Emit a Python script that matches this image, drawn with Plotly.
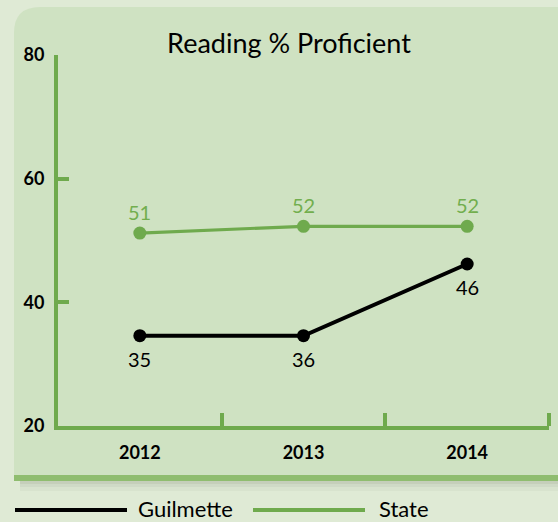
import plotly.graph_objects as go

# data
years = ["2012", "2013", "2014"]
guilmette = [34.6, 34.6, 46.2]
guilmette_labels = ["35", "36", "46"]
state = [51.2, 52.3, 52.3]
state_labels = ["51", "52", "52"]
y_ticks = [20, 40, 60, 80]

W, H = 558, 522
L, R, T, B = 58, 9, 55, 96
GREEN = "#6faa4d"
LABEL_GREEN = "#72ae4e"
OUTER = "#dfead5"
PANEL = "#cfe2c2"
BAND = "#8fbd6f"
FONT = "Lato"


def px_x(x):
    return (x - L) / (W - L - R)


def px_y(y):
    return (H - B - y) / (H - T - B)


xs = list(range(len(years)))

fig = go.Figure()
fig.add_trace(go.Scatter(
    x=xs, y=state, mode="lines+markers", name="State",
    line=dict(color=GREEN, width=3.2),
    marker=dict(color=GREEN, size=13),
    cliponaxis=False,
))
fig.add_trace(go.Scatter(
    x=xs, y=guilmette, mode="lines+markers", name="Guilmette",
    line=dict(color="black", width=4),
    marker=dict(color="black", size=13),
    cliponaxis=False,
))

annotations = []
for x, y, t in zip(xs, state, state_labels):
    annotations.append(dict(x=x, y=y, text=t, showarrow=False, yshift=21,
                            font=dict(family=FONT, size=20, color=LABEL_GREEN)))
for x, y, t in zip(xs, guilmette, guilmette_labels):
    annotations.append(dict(x=x, y=y, text=t, showarrow=False, yshift=-23,
                            font=dict(family=FONT, size=20, color="black")))

# panel background with rounded top-left corner
x0, x1, y0, y1, r = 14, 558, 7, 475, 26
path = (f"M {px_x(x0)},{px_y(y1)} L {px_x(x0)},{px_y(y0 + r)} "
        f"Q {px_x(x0)},{px_y(y0)} {px_x(x0 + r)},{px_y(y0)} "
        f"L {px_x(x1)},{px_y(y0)} L {px_x(x1)},{px_y(y1)} Z")
shapes = [
    dict(type="path", path=path, xref="paper", yref="paper",
         fillcolor=PANEL, line=dict(width=0), layer="below"),
    dict(type="rect", xref="paper", yref="paper",
         x0=px_x(14), x1=px_x(558), y0=px_y(475), y1=px_y(481),
         fillcolor=BAND, line=dict(width=0), layer="below"),
]
# soft shadow under the band
for top, bot, op in [(481, 484, 0.16), (484, 487, 0.09), (487, 491, 0.04)]:
    shapes.append(dict(type="rect", xref="paper", yref="paper",
                       x0=px_x(20), x1=px_x(558), y0=px_y(top), y1=px_y(bot),
                       fillcolor=f"rgba(60,70,50,{op})", line=dict(width=0),
                       layer="below"))

# legend drawn by hand (long line samples)
shapes.append(dict(type="line", xref="paper", yref="paper",
                   x0=px_x(15), x1=px_x(127), y0=px_y(510), y1=px_y(510),
                   line=dict(color="black", width=4)))
shapes.append(dict(type="line", xref="paper", yref="paper",
                   x0=px_x(253), x1=px_x(365), y0=px_y(510), y1=px_y(510),
                   line=dict(color=GREEN, width=4)))
annotations += [
    dict(text="Guilmette", xref="paper", yref="paper", x=px_x(136), y=px_y(508),
         xanchor="left", yanchor="middle", showarrow=False,
         font=dict(family=FONT, size=22, color="black")),
    dict(text="State", xref="paper", yref="paper", x=px_x(377), y=px_y(508),
         xanchor="left", yanchor="middle", showarrow=False,
         font=dict(family=FONT, size=22, color="black")),
]

fig.update_layout(
    width=W, height=H,
    margin=dict(l=L, r=R, t=T, b=B),
    paper_bgcolor=OUTER, plot_bgcolor="rgba(0,0,0,0)",
    showlegend=False,
    title=dict(text="Reading % Proficient", x=289 / W, xanchor="center",
               y=1 - 44 / H, yanchor="middle",
               font=dict(family=FONT, size=27, color="black")),
    shapes=shapes, annotations=annotations,
)
fig.update_xaxes(
    range=[-0.5, 2.5], tickvals=xs, ticktext=years, ticks="",
    showgrid=False, zeroline=False, showline=True, linecolor=GREEN, linewidth=4,
    tickfont=dict(family=FONT, size=18, color="black", weight="bold"),
    ticklabelstandoff=7,
    minor=dict(tickmode="array", tickvals=[0.5, 1.5, 2.5], ticks="inside",
               ticklen=13, tickwidth=4, tickcolor=GREEN, showgrid=False),
)
fig.update_yaxes(
    range=[20, 80], tickvals=y_ticks, ticks="inside", ticklen=11, tickwidth=4,
    tickcolor=GREEN, showgrid=False, zeroline=False, showline=True,
    linecolor=GREEN, linewidth=4,
    tickfont=dict(family=FONT, size=18, color="black", weight="bold"),
    ticklabelstandoff=6,
)

fig.write_html("out.html", config={"displayModeBar": False},
               post_script="document.body.style.margin='0px';")
